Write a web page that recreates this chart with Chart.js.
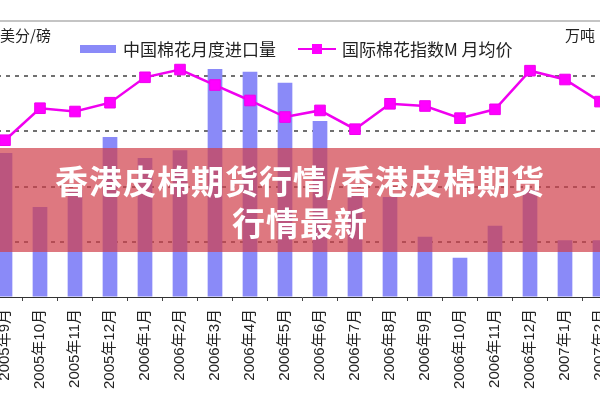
<!DOCTYPE html>
<html>
<head>
<meta charset="utf-8">
<script src="https://cdn.jsdelivr.net/npm/chart.js@4.4.1/dist/chart.umd.min.js"></script>
<style>
html,body{margin:0;padding:0;width:600px;height:400px;overflow:hidden;background:#fff;}
body{position:relative;font-family:"Noto Sans CJK SC","Liberation Sans",sans-serif;}
#wrap{position:absolute;left:-60px;top:0;width:720px;height:400px;}
#topline{position:absolute;left:0;top:20px;width:600px;height:2px;background:#c4c4c4;}
.t{position:absolute;color:#222;white-space:nowrap;line-height:1;}
#unitL{left:0;top:27px;font-size:15px;}
#unitR{left:565px;top:27px;font-size:15px;}
#lgBar{position:absolute;left:80px;top:45px;width:36px;height:8px;background:#8a8af8;}
#lg1{left:123px;top:40px;font-size:17px;}
#lgLine{position:absolute;left:298px;top:48px;width:38px;height:2px;background:#f000f0;}
#lgPt{position:absolute;left:312px;top:44px;width:10px;height:10px;background:#ff00ff;}
#lg2{left:342px;top:40px;font-size:17px;}
#banner{position:absolute;left:0;top:148px;width:600px;height:104px;background:rgba(208,62,74,0.7);
  color:#fff;font-weight:700;font-size:33px;line-height:42px;text-align:center;box-sizing:border-box;padding-top:11px;
  font-family:"Noto Sans CJK SC",sans-serif;letter-spacing:1px;}
</style>
</head>
<body>
<div id="wrap"><canvas id="c" width="720" height="400"></canvas></div>
<div id="topline"></div>
<div class="t" id="unitL">美分/磅</div>
<div class="t" id="unitR">万吨</div>
<div id="lgBar"></div>
<div class="t" id="lg1">中国棉花月度进口量</div>
<div id="lgLine"></div><div id="lgPt"></div>
<div class="t" id="lg2">国际棉花指数M 月均价</div>
<div id="banner">香港皮棉期货行情/香港皮棉期货<br>行情最新</div>
<script>
const categories = ["2005年9月","2005年10月","2005年11月","2005年12月","2006年1月","2006年2月","2006年3月","2006年4月","2006年5月","2006年6月","2006年7月","2006年8月","2006年9月","2006年10月","2006年11月","2006年12月","2007年1月","2007年2月"];
const importVolume = [26.1,16.3,19.4,29.0,25.2,26.6,41.3,40.8,38.8,31.9,18.5,18.1,10.9,7.1,12.9,19.4,10.3,10.3];
const cottonIndex = [54.2,57.1,56.8,57.6,59.9,60.6,59.2,57.8,56.3,56.9,55.2,57.5,57.3,56.2,57.0,60.5,59.7,57.7];
const leftTicks = {min:40,max:65,step:5};
const rightTicks = {min:0,max:50,step:10};

const fam = '"Liberation Sans","Noto Sans CJK SC",sans-serif';
new Chart(document.getElementById('c'), {
  data: {
    labels: categories,
    datasets: [
      {type:'line', label:'国际棉花指数M 月均价', data: cottonIndex, yAxisID:'yL', order:1,
       borderColor:'#f000f0', borderWidth:2.5, pointStyle:'rect', pointRadius:7.5,
       pointBackgroundColor:'#ff00ff', pointBorderColor:'#ee00ee', pointBorderWidth:1, tension:0},
      {type:'bar', label:'中国棉花月度进口量', data: importVolume, yAxisID:'yR', order:2,
       backgroundColor:'#8a8af8', borderWidth:0, categoryPercentage:1, barPercentage:0.42}
    ]
  },
  options: {
    responsive:false, animation:false, devicePixelRatio:1,
    layout:{padding:{left:7.5,right:2.5,top:21,bottom:0}},
    plugins:{legend:{display:false}, tooltip:{enabled:false}},
    scales:{
      x:{type:'category', offset:true,
         grid:{offset:true, drawOnChartArea:false, drawTicks:true, tickLength:4, color:'#444'},
         border:{display:true, color:'#333', width:1},
         ticks:{autoSkip:false, minRotation:90, maxRotation:90, padding:8, color:'#222', font:{size:15, family:fam}},
         afterFit:(s)=>{s.height=103;}},
      yL:{position:'left', min:leftTicks.min, max:leftTicks.max,
         ticks:{display:false, stepSize:leftTicks.step},
         grid:{drawTicks:false, lineWidth:2, borderDash:[4,5],
               color:(ctx)=> (ctx.tick && (ctx.tick.value===leftTicks.min || ctx.tick.value===leftTicks.max)) ? 'rgba(0,0,0,0)' : '#707070'},
         border:{display:false, dash:[4,5]},
         afterFit:(s)=>{s.width=40;}},
      yR:{position:'right', min:rightTicks.min, max:rightTicks.max,
         ticks:{display:false, stepSize:rightTicks.step},
         grid:{drawOnChartArea:false, drawTicks:false},
         border:{display:false},
         afterFit:(s)=>{s.width=40;}}
    }
  }
});
</script>
</body>
</html>
